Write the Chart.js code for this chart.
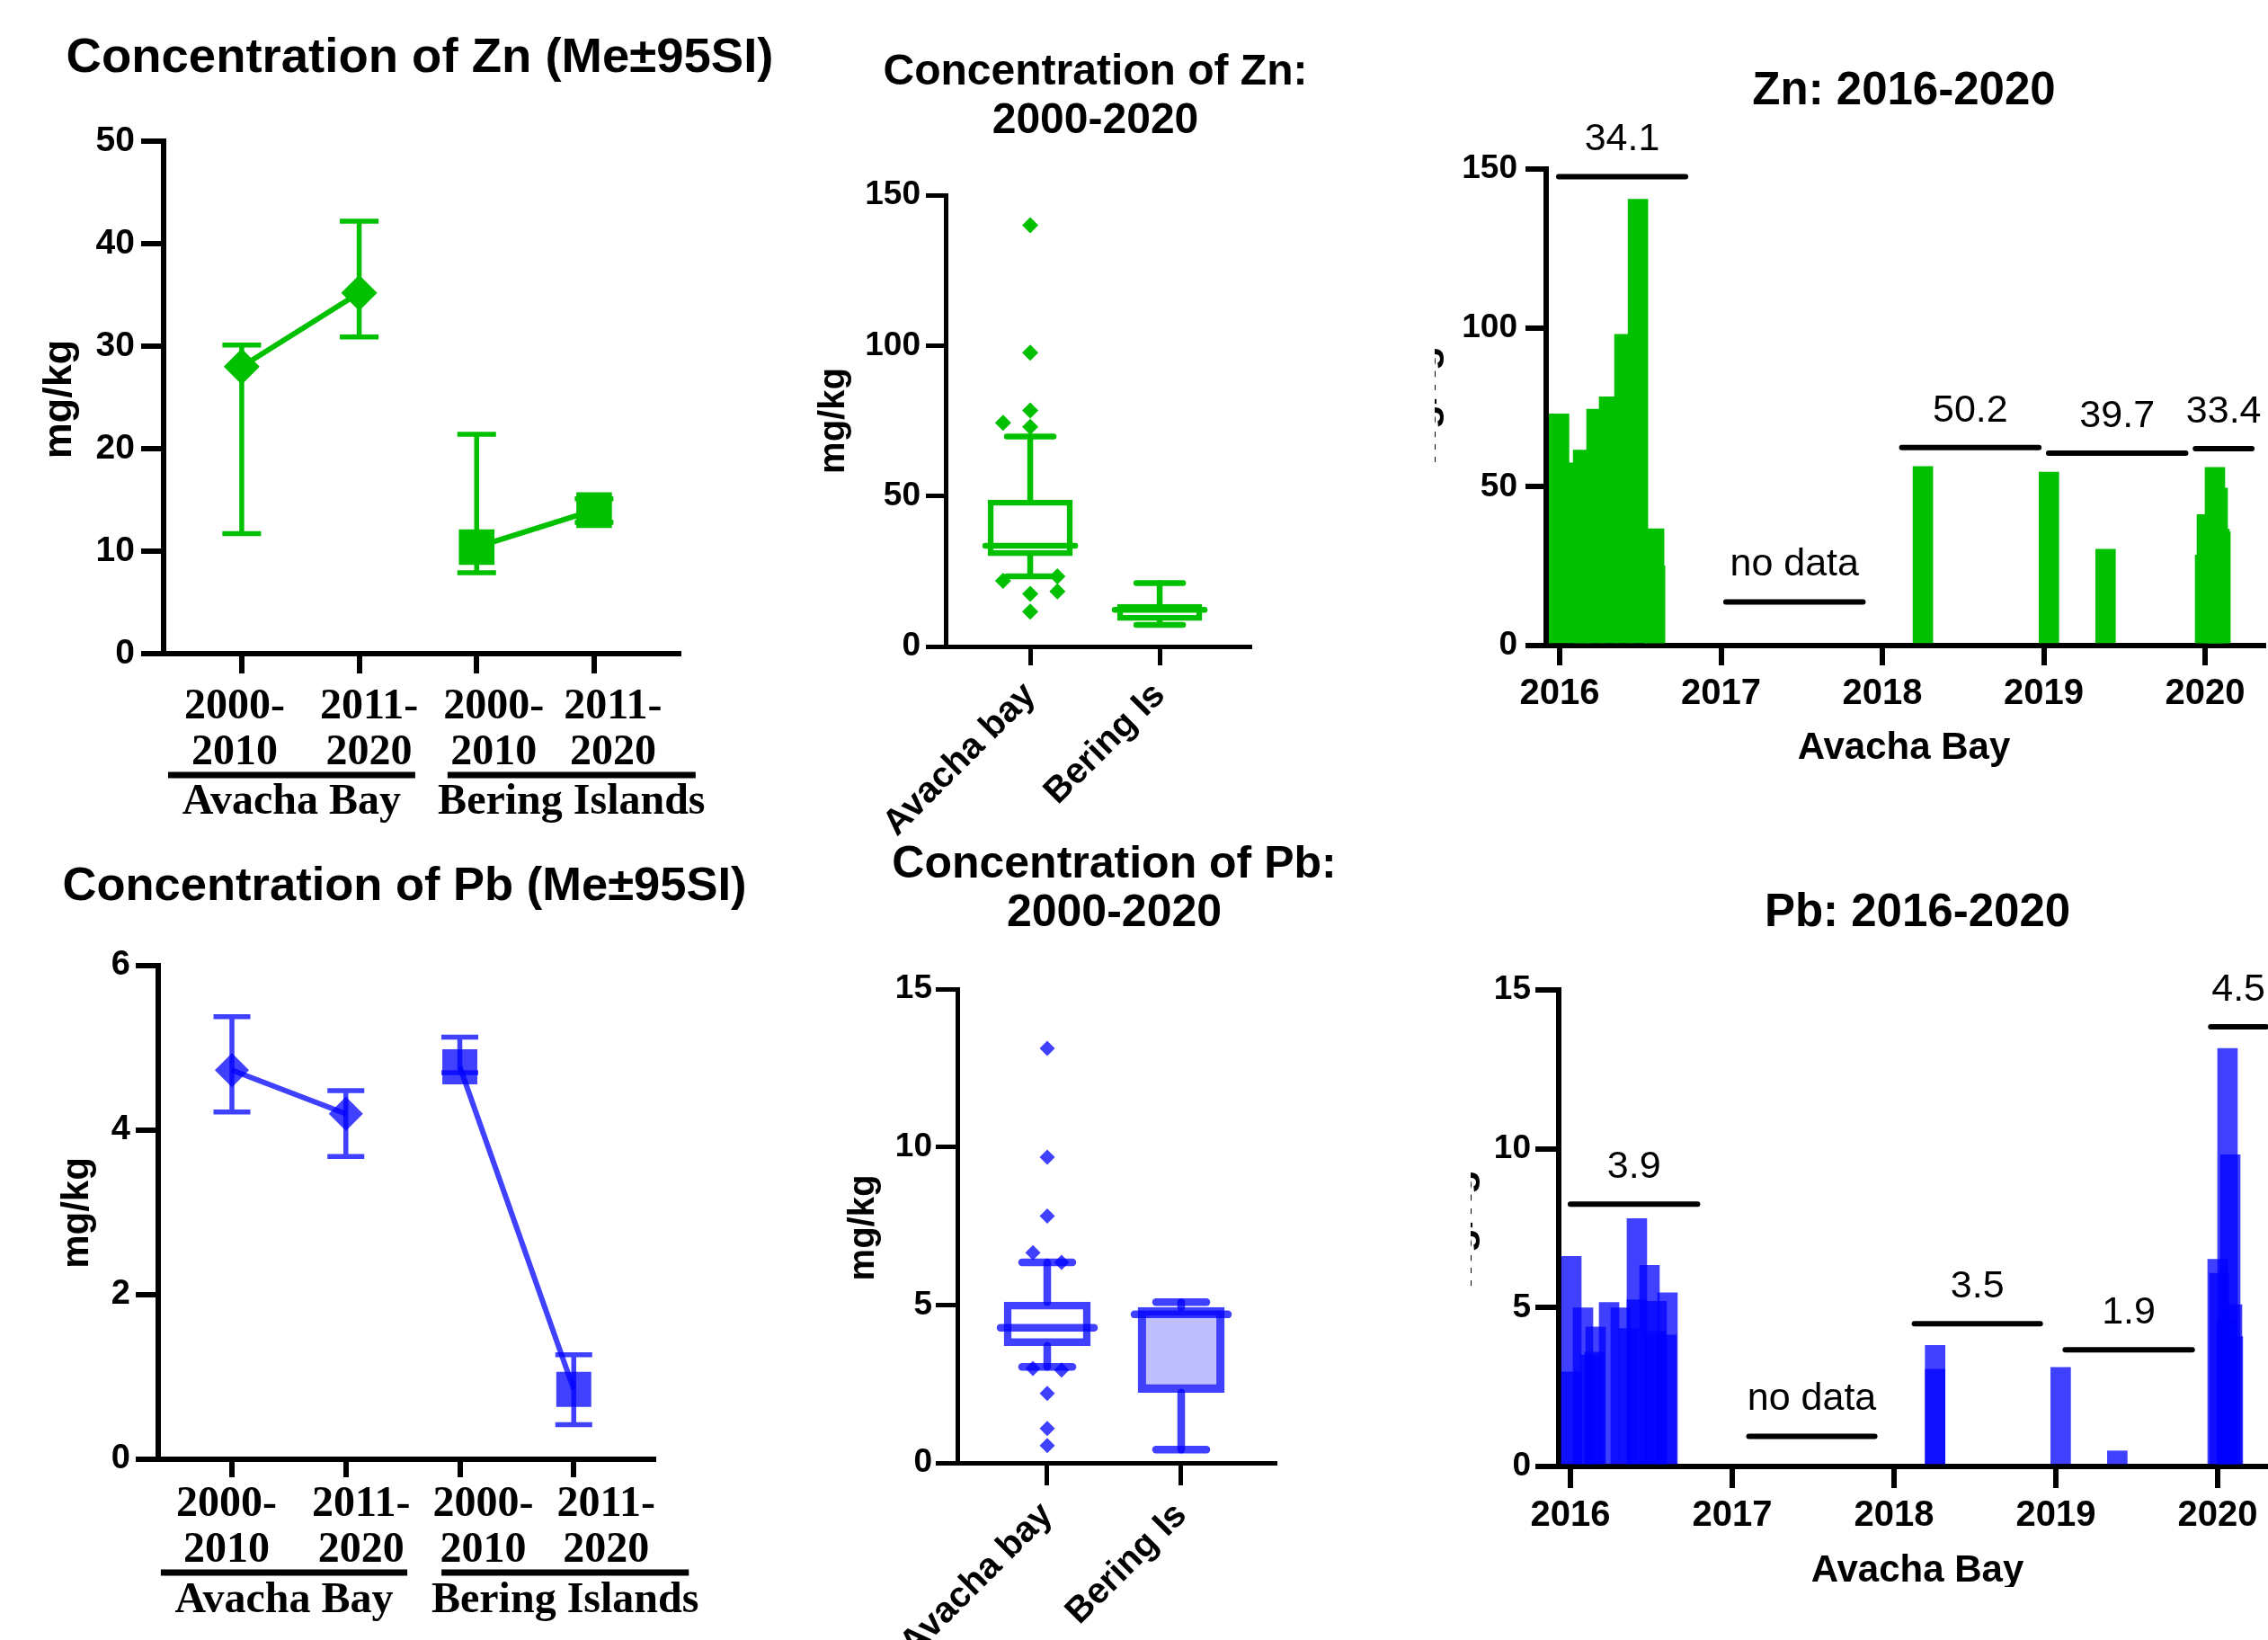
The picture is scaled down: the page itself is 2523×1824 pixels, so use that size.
<!DOCTYPE html>
<html>
<head>
<meta charset="utf-8">
<title>Zn and Pb concentrations</title>
<script src="https://cdn.jsdelivr.net/npm/chart.js@4.4.1/dist/chart.umd.min.js"></script>
<style>
  html, body { margin: 0; padding: 0; background: #fff; overflow: hidden; }
  body { width: 2523px; height: 1824px; position: relative; }
  .panel { position: absolute; }
</style>
</head>
<body>
<div class="panel" style="left:0;top:0;width:870px;height:930px"><canvas id="znLine"></canvas></div>
<div class="panel" style="left:0;top:930px;width:870px;height:894px"><canvas id="pbLine"></canvas></div>
<div class="panel" style="left:870px;top:0;width:720px;height:935px"><canvas id="znBox"></canvas></div>
<div class="panel" style="left:870px;top:900px;width:720px;height:924px"><canvas id="pbBox"></canvas></div>
<div class="panel" style="left:1596px;top:0;width:927px;height:900px"><canvas id="znBars"></canvas></div>
<div class="panel" style="left:1636px;top:950px;width:1000px;height:815px"><canvas id="pbBars"></canvas></div>
<script>
// ---- data ----
const periods = [["2000-", "2010"], ["2011-", "2020"], ["2000-", "2010"], ["2011-", "2020"]];
const periodSite = [0, 0, 1, 1];
const siteNames = ["Avacha Bay", "Bering Islands"];

// median with 95% interval
const znMedian = [28.0, 35.2, 10.4, 14.0];
const znLow = [11.7, 30.9, 7.9, 12.8];
const znHigh = [30.1, 42.2, 21.4, 15.1];

const pbMedian = [4.73, 4.20, 4.77, 0.85];
const pbLow = [4.22, 3.68, 4.70, 0.42];
const pbHigh = [5.38, 4.48, 5.13, 1.27];

// box plots 2000-2020
const boxSites = ["Avacha bay", "Bering Is"];
const znBoxLow = [23.3, 7.2];
const znBoxQ1 = [30.1, 8.6];
const znBoxMedian = [33.5, 12.2];
const znBoxQ3 = [48.7, 14.0];
const znBoxHigh = [69.8, 21.1];
const znOutlierValues = [140.0, 97.6, 78.4, 73.0, 17.5, 11.6, 74.3, 21.8, 23.3, 18.3];
const znOutlierLane = [0, 0, 0, 0, 0, 0, -1, -1, 1, 1];

const pbBoxLow = [3.04, 0.42];
const pbBoxQ1 = [3.71, 2.23];
const pbBoxMedian = [4.28, 4.70];
const pbBoxQ3 = [5.09, 4.92];
const pbBoxHigh = [6.35, 5.09];
const pbOutlierValues = [13.12, 9.68, 7.81, 2.20, 1.09, 0.55, 6.65, 2.99, 6.35, 2.94];
const pbOutlierLane = [0, 0, 0, 0, 0, 0, -1, -1, 1, 1];

// Avacha Bay samples 2016-2020 (decimal year, mg/kg)
const yearTicks = [2016, 2017, 2018, 2019, 2020];
const znSampleYear = [2015.996, 2016.117, 2016.145, 2016.228, 2016.306, 2016.401, 2016.485, 2016.585, 2016.591,
  2018.251, 2019.032, 2019.383, 2020.000, 2020.011, 2020.061, 2020.078, 2020.089, 2020.095];
const znSampleValue = [72.9, 57.5, 61.5, 74.4, 78.3, 98.0, 140.5, 36.8, 25.1,
  56.4, 54.6, 30.3, 28.5, 41.2, 56.1, 49.6, 36.6, 35.8];

const pbSampleYear = [2016.006, 2016.006, 2016.078, 2016.124, 2016.150, 2016.156, 2016.239, 2016.311, 2016.361,
  2016.411, 2016.411, 2016.489, 2016.533, 2016.528, 2016.594, 2016.600,
  2018.254, 2018.254, 2019.030, 2019.380,
  2020.000, 2020.011, 2020.056, 2020.061, 2020.078, 2020.089, 2020.094];
const pbSampleValue = [6.61, 2.98, 4.99, 3.51, 3.60, 4.39, 5.16, 4.99, 4.34,
  7.80, 5.25, 6.33, 5.20, 4.25, 4.14, 5.47,
  3.81, 3.06, 3.12, 0.49,
  6.52, 6.08, 4.63, 13.16, 9.81, 5.09, 4.09];

// yearly means drawn as bars over the sampling period
const znNoteText = ["34.1", "no data", "50.2", "39.7", "33.4"];
const znNoteFrom = [2015.994, 2017.03, 2018.12, 2019.03, 2019.94];
const znNoteTo = [2016.78, 2017.88, 2018.97, 2019.88, 2020.29];
const znNoteLevel = [147.6, 13.7, 62.3, 60.6, 62.0];

const pbNoteText = ["3.9", "no data", "3.5", "1.9", "4.5"];
const pbNoteFrom = [2016.0, 2017.103, 2018.126, 2019.058, 2019.957];
const pbNoteTo = [2016.786, 2017.881, 2018.904, 2019.843, 2020.30];
const pbNoteLevel = [8.26, 0.95, 4.49, 3.67, 13.84];

// ---- styling ----
const GREEN = "#00c000";
const BLUE = "rgba(0, 0, 255, 0.75)";
const SANS = '"Liberation Sans", Arial, sans-serif';
const SERIF = '"Liberation Serif", "Times New Roman", serif';

Chart.defaults.font.family = SANS;
Chart.defaults.color = "#000";
Chart.defaults.animation = false;

// free text (titles, axis names)
const panelText = {
  id: "panelText",
  afterDraw(chart, args, o) {
    const ctx = chart.ctx;
    (o.items || []).forEach(t => {
      ctx.save();
      ctx.font = `${t.weight || "bold"} ${t.size}px ${t.family || SANS}`;
      ctx.fillStyle = "#000";
      ctx.textAlign = t.align || "center";
      ctx.textBaseline = t.baseline || "middle";
      ctx.translate(t.x, t.y);
      if (t.rotate) ctx.rotate(t.rotate * Math.PI / 180);
      ctx.fillText(t.text, 0, 0);
      ctx.restore();
    });
  }
};

// vertical interval with caps
const errorBars = {
  id: "errorBars",
  beforeDatasetsDraw(chart, args, o) {
    const {ctx, scales: {x, y}} = chart;
    ctx.save();
    ctx.strokeStyle = o.color;
    ctx.lineWidth = o.width;
    o.low.forEach((lo, i) => {
      const px = x.getPixelForValue(i);
      const y1 = y.getPixelForValue(lo), y2 = y.getPixelForValue(o.high[i]);
      ctx.beginPath();
      ctx.moveTo(px, y1); ctx.lineTo(px, y2);
      ctx.moveTo(px - o.cap, y1); ctx.lineTo(px + o.cap, y1);
      ctx.moveTo(px - o.cap, y2); ctx.lineTo(px + o.cap, y2);
      ctx.stroke();
    });
    ctx.restore();
  }
};

// category labels + site brackets under the line charts
const periodLabels = {
  id: "periodLabels",
  afterDraw(chart, args, o) {
    const {ctx, scales: {x}} = chart;
    ctx.save();
    ctx.fillStyle = "#000";
    ctx.strokeStyle = "#000";
    ctx.textAlign = "center";
    ctx.textBaseline = "middle";
    ctx.font = `bold ${o.size}px ${SERIF}`;
    periods.forEach((lines, i) => {
      const px = x.getPixelForValue(i) + o.nudge[i];
      lines.forEach((t, k) => ctx.fillText(t, px, o.lineY[k]));
    });
    ctx.lineWidth = o.rule;
    siteNames.forEach((name, j) => {
      const a = x.getPixelForValue(o.spanFrom[j]);
      const b = x.getPixelForValue(o.spanTo[j]);
      ctx.beginPath();
      ctx.moveTo(a, o.ruleY); ctx.lineTo(b, o.ruleY);
      ctx.stroke();
      ctx.fillText(name, (a + b) / 2, o.nameY);
    });
    ctx.restore();
  }
};

// whiskers and medians on top of the floating-bar boxes
const boxWhiskers = {
  id: "boxWhiskers",
  afterDatasetsDraw(chart, args, o) {
    const {ctx, scales: {x, y}} = chart;
    ctx.save();
    ctx.strokeStyle = o.color;
    ctx.lineWidth = o.width;
    ctx.lineCap = "round";
    const seg = (x1, y1, x2, y2) => { ctx.beginPath(); ctx.moveTo(x1, y1); ctx.lineTo(x2, y2); ctx.stroke(); };
    o.q1.forEach((q1, i) => {
      const px = x.getPixelForValue(i);
      const hi = y.getPixelForValue(o.high[i]), lo = y.getPixelForValue(o.low[i]);
      seg(px, y.getPixelForValue(o.q3[i]), px, hi);
      seg(px, y.getPixelForValue(q1), px, lo);
      seg(px - o.cap, hi, px + o.cap, hi);
      seg(px - o.cap, lo, px + o.cap, lo);
      const m = y.getPixelForValue(o.median[i]);
      seg(px - o.med, m, px + o.med, m);
    });
    ctx.restore();
  }
};

// numbers written above the period lines
const levelNotes = {
  id: "levelNotes",
  afterDatasetsDraw(chart, args, o) {
    const {ctx, scales: {x, y}} = chart;
    ctx.save();
    ctx.font = `${o.size}px ${SANS}`;
    ctx.fillStyle = "#000";
    ctx.textAlign = "center";
    ctx.textBaseline = "middle";
    o.text.forEach((t, i) => {
      const px = (x.getPixelForValue(o.from[i]) + x.getPixelForValue(o.to[i])) / 2;
      ctx.fillText(t, px, y.getPixelForValue(o.level[i]) - o.lift);
    });
    ctx.restore();
  }
};

function valueAxis(min, max, step, size, tick, pad, width, lw) {
  return {
    type: "linear", min, max,
    ticks: { stepSize: step, padding: pad, font: { size, weight: "bold" }, color: "#000" },
    grid: { drawOnChartArea: false, tickLength: tick, lineWidth: lw, color: "#000" },
    border: { color: "#000", width: lw },
    afterFit: s => { s.width = width; }
  };
}

function indexAxis(min, max, tickValues, opts) {
  return {
    type: "linear", min, max, offset: false,
    afterBuildTicks: s => { s.ticks = tickValues.map(v => ({ value: v })); },
    ticks: Object.assign({ autoSkip: false, color: "#000" }, opts.ticks),
    grid: { offset: false, drawOnChartArea: false, tickLength: opts.tick, lineWidth: opts.lw, color: "#000" },
    border: { color: "#000", width: opts.lw },
    afterFit: s => { s.height = opts.height; }
  };
}

function siteSeries(values, site, color, style, radius) {
  return {
    type: "line",
    data: values.map((v, i) => ({ x: i, y: v })).filter((p, i) => periodSite[i] === site),
    borderColor: color, borderWidth: 6,
    pointStyle: style, pointRadius: radius, pointBackgroundColor: color, pointBorderWidth: 0,
    tension: 0, clip: false
  };
}

function noteLines(from, to, level) {
  return from.map((a, i) => ({
    type: "line",
    data: [{ x: a, y: level[i] }, { x: to[i], y: level[i] }],
    borderColor: "#000", borderWidth: 6, borderCapStyle: "round",
    pointRadius: 0, clip: false
  }));
}

const base = { responsive: true, maintainAspectRatio: false, animation: false };
const quiet = { legend: { display: false }, tooltip: { enabled: false } };

// 1. Zn median ± 95% interval
new Chart(document.getElementById("znLine"), {
  type: "line",
  data: { datasets: [siteSeries(znMedian, 0, GREEN, "rectRot", 20), siteSeries(znMedian, 1, GREEN, "rect", 28)] },
  plugins: [panelText, errorBars, periodLabels],
  options: Object.assign({}, base, {
    layout: { padding: { left: 82, top: 157, right: 115, bottom: 163 } },
    scales: {
      x: indexAxis(-0.665, 3.72, [0, 1, 2, 3], { tick: 22, lw: 6, height: 40, ticks: { display: false } }),
      y: valueAxis(0, 50, 10, 39, 25, 7, 100, 6)
    },
    plugins: Object.assign({}, quiet, {
      errorBars: { low: znLow, high: znHigh, color: GREEN, width: 5.5, cap: 21.5 },
      periodLabels: { size: 48, nudge: [-8, 11, 19, 21], lineY: [787, 838], rule: 7, ruleY: 862, nameY: 893,
        spanFrom: [-0.627, 1.752], spanTo: [1.477, 3.864] },
      panelText: { items: [
        { text: "Concentration of Zn (Me\u00b195SI)", x: 467, y: 64.5, size: 54.5 },
        { text: "mg/kg", x: 67, y: 444, size: 45, rotate: -90 }
      ] }
    })
  })
});

// 2. Pb median ± 95% interval
new Chart(document.getElementById("pbLine"), {
  type: "line",
  data: { datasets: [siteSeries(pbMedian, 0, BLUE, "rectRot", 19), siteSeries(pbMedian, 1, BLUE, "rect", 27.5)] },
  plugins: [panelText, errorBars, periodLabels],
  options: Object.assign({}, base, {
    layout: { padding: { left: 76, top: 144, right: 143, bottom: 161 } },
    scales: {
      x: indexAxis(-0.647, 3.70, [0, 1, 2, 3], { tick: 20, lw: 6, height: 40, ticks: { display: false } }),
      y: valueAxis(0, 6, 2, 38, 25, 6, 100, 6)
    },
    plugins: Object.assign({}, quiet, {
      errorBars: { low: pbLow, high: pbHigh, color: BLUE, width: 5.5, cap: 20.5 },
      periodLabels: { size: 48, nudge: [-6, 17, 26, 36], lineY: [744, 795], rule: 7, ruleY: 819, nameY: 851,
        spanFrom: [-0.624, 1.839], spanTo: [1.539, 4.01] },
      panelText: { items: [
        { text: "Concentration of Pb (Me\u00b195SI)", x: 450, y: 56.5, size: 52.5 },
        { text: "mg/kg", x: 86, y: 419, size: 42, rotate: -90 }
      ] }
    })
  })
});

function boxChart(id, o) {
  return new Chart(document.getElementById(id), {
    type: "bar",
    data: { datasets: [
      {
        data: boxSites.map((s, i) => ({ x: i, y: [o.q1[i], o.q3[i]] })),
        backgroundColor: o.fill, borderColor: o.color, borderWidth: o.lw, borderSkipped: false,
        barThickness: o.boxWidth
      },
      {
        type: "scatter",
        data: o.outliers.map((v, k) => ({ x: o.outlierLane[k] * o.jitter, y: v })),
        pointStyle: "rectRot", pointRadius: o.dot, pointBackgroundColor: o.color, pointBorderWidth: 0
      }
    ] },
    plugins: [panelText, boxWhiskers],
    options: Object.assign({}, base, {
      layout: { padding: o.padding },
      scales: {
        x: indexAxis(o.xMin, o.xMax, [0, 1], { tick: o.xTick, lw: 5, height: o.xHeight,
          ticks: { callback: v => boxSites[v], minRotation: 45, maxRotation: 45, padding: 10,
            font: { size: 40, weight: "bold" } } }),
        y: valueAxis(0, o.yMax, o.yStep, 37, o.yTick, o.yPad, 100, 5)
      },
      plugins: Object.assign({}, quiet, {
        boxWhiskers: { q1: o.q1, q3: o.q3, median: o.median, low: o.low, high: o.high,
          color: o.color, width: o.lw, cap: o.cap, med: o.med },
        panelText: { items: o.texts }
      })
    })
  });
}

// 3. Zn box plot
boxChart("znBox", {
  q1: znBoxQ1, q3: znBoxQ3, median: znBoxMedian, low: znBoxLow, high: znBoxHigh,
  outliers: znOutlierValues, outlierLane: znOutlierLane, jitter: 0.21,
  color: GREEN, fill: ["#fff", "#fff"], lw: 6.5, boxWidth: 94, cap: 26, med: 50, dot: 9,
  padding: { left: 82, top: 217, right: 200, bottom: 0 }, xHeight: 216,
  xMin: -0.653, xMax: 1.694, xTick: 21, yMax: 150, yStep: 50, yTick: 22, yPad: 6,
  texts: [
    { text: "Concentration of Zn:", x: 348.5, y: 81, size: 48 },
    { text: "2000-2020", x: 348.5, y: 135, size: 48 },
    { text: "mg/kg", x: 58, y: 468, size: 40, rotate: -90 }
  ]
});

// 4. Pb box plot
boxChart("pbBox", {
  q1: pbBoxQ1, q3: pbBoxQ3, median: pbBoxMedian, low: pbBoxLow, high: pbBoxHigh,
  outliers: pbOutlierValues, outlierLane: pbOutlierLane, jitter: 0.107,
  color: BLUE, fill: ["#fff", "rgba(0, 0, 255, 0.25)"], lw: 8.5, boxWidth: 96, cap: 28, med: 52, dot: 8.5,
  padding: { left: 95, top: 200, right: 172, bottom: 0 }, xHeight: 197,
  xMin: -0.671, xMax: 1.698, xTick: 25, yMax: 15, yStep: 5, yTick: 24, yPad: 4,
  texts: [
    { text: "Concentration of Pb:", x: 369.5, y: 62, size: 50 },
    { text: "2000-2020", x: 369.5, y: 116, size: 50 },
    { text: "mg/kg", x: 91, y: 465.5, size: 40, rotate: -90 }
  ]
});

function sampleChart(id, o) {
  return new Chart(document.getElementById(id), {
    type: "bar",
    data: { datasets: [
      {
        data: o.years.map((yr, i) => ({ x: yr, y: o.values[i] })),
        backgroundColor: o.color, borderWidth: 0, barThickness: 22
      }
    ].concat(noteLines(o.noteFrom, o.noteTo, o.noteLevel)) },
    plugins: [panelText, levelNotes],
    options: Object.assign({}, base, {
      layout: { padding: o.padding },
      scales: {
        x: indexAxis(o.xMin, o.xMax, yearTicks, { tick: o.xTick, lw: 6, height: 120,
          ticks: { callback: v => String(v), maxRotation: 0, padding: o.xPad, font: { size: 40, weight: "bold" } } }),
        y: valueAxis(0, o.yMax, o.yStep, 37, o.yTick, o.yPad, o.yWidth, 6)
      },
      plugins: Object.assign({}, quiet, {
        levelNotes: { text: o.noteText, from: o.noteFrom, to: o.noteTo, level: o.noteLevel, size: 43, lift: 41 },
        panelText: { items: o.texts }
      })
    })
  });
}

// 5. Zn samples 2016-2020
sampleChart("znBars", {
  years: znSampleYear, values: znSampleValue, color: GREEN,
  noteText: znNoteText, noteFrom: znNoteFrom, noteTo: znNoteTo, noteLevel: znNoteLevel,
  padding: { left: 24, top: 188, right: 5, bottom: 62 },
  xMin: 2015.916, xMax: 2020.362, xTick: 22, xPad: 8,
  yMax: 150, yStep: 50, yTick: 23, yPad: 9, yWidth: 100,
  texts: [
    { text: "Zn: 2016-2020", x: 522, y: 102, size: 51 },
    { text: "Avacha Bay", x: 522, y: 832, size: 42 },
    { text: "mg/kg", x: 1, y: 451, size: 45, rotate: -90, baseline: "alphabetic" }
  ]
});

// 6. Pb samples 2016-2020
sampleChart("pbBars", {
  years: pbSampleYear, values: pbSampleValue, color: BLUE,
  noteText: pbNoteText, noteFrom: pbNoteFrom, noteTo: pbNoteTo, noteLevel: pbNoteLevel,
  padding: { left: 8, top: 151, right: 36, bottom: 14 },
  xMin: 2015.928, xMax: 2020.739, xTick: 24, xPad: 7,
  yMax: 15, yStep: 5, yTick: 26, yPad: 5, yWidth: 90,
  texts: [
    { text: "Pb: 2016-2020", x: 497, y: 66, size: 51 },
    { text: "Avacha Bay", x: 497, y: 797, size: 42 },
    { text: "mg/kg", x: 0.5, y: 417, size: 45, rotate: -90, baseline: "alphabetic" }
  ]
});
</script>
</body>
</html>
